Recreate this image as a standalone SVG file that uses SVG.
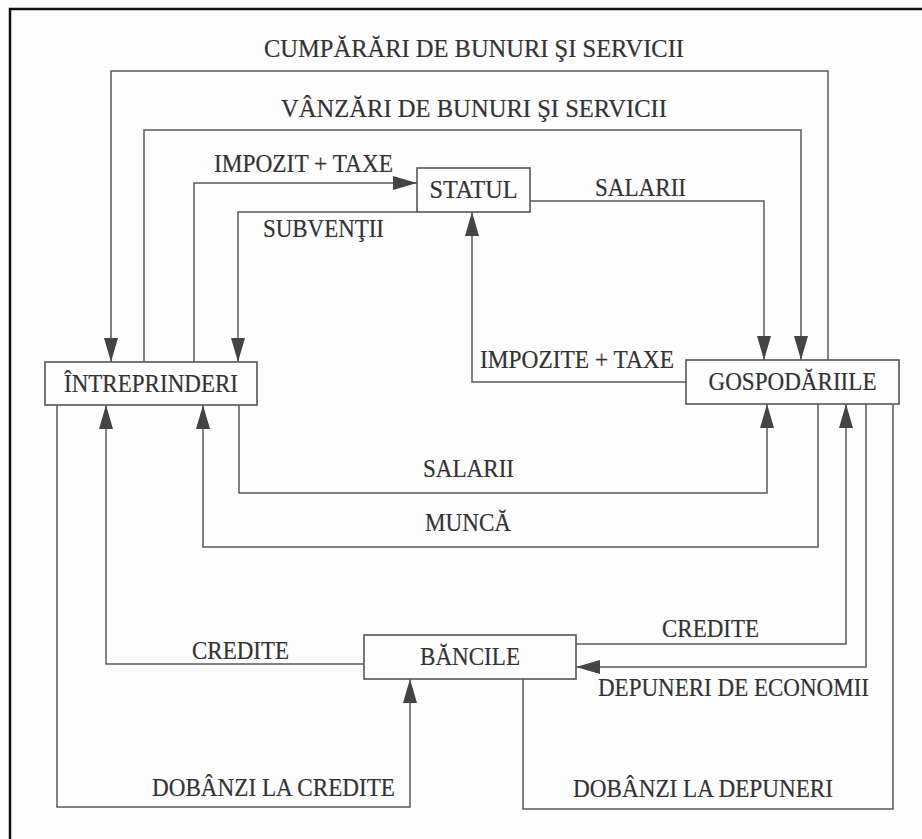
<svg xmlns="http://www.w3.org/2000/svg" width="922" height="839" viewBox="0 0 922 839">
  <style>
    .frame { fill: none; stroke: #111; stroke-width: 2.5; }
    .box { fill: #fdfdfe; stroke: #555; stroke-width: 1.6; }
    .flow { fill: none; stroke: #5a5a5a; stroke-width: 1.5; }
    .arrow { marker-end: url(#head); }
    text { font-family: "Liberation Serif", "Times New Roman", serif; font-size: 25px; fill: #333; stroke: #333; stroke-width: 0.2; }
    .big { font-size: 25.5px; }
    .mid { text-anchor: middle; }
  </style>
  <defs>
    <marker id="head" markerUnits="userSpaceOnUse" markerWidth="24" markerHeight="14" refX="24" refY="7" orient="auto">
      <path d="M0,0 L24,7 L0,14 Z" fill="#444"/>
    </marker>
  </defs>

  <!-- page -->
  <rect x="0" y="0" width="922" height="839" fill="#fdfdfe"/>
  <path class="frame" d="M10,839 V9 H922"/>

  <!-- connectors -->
  <g id="connectors">
    <!-- purchases: households to firms -->
    <path class="flow arrow" d="M828,360 V71 H111 V362"/>
    <text class="big mid" x="474" y="57" textLength="420" lengthAdjust="spacingAndGlyphs">CUMPĂRĂRI DE BUNURI ŞI SERVICII</text>
    <!-- sales: firms to households -->
    <path class="flow arrow" d="M144,362 V130 H801 V360"/>
    <text class="big mid" x="474" y="117" textLength="386" lengthAdjust="spacingAndGlyphs">VÂNZĂRI DE BUNURI ŞI SERVICII</text>
    <!-- firm taxes to the state -->
    <path class="flow arrow" d="M194,362 V183 H417"/>
    <text x="214" y="172" textLength="179" lengthAdjust="spacingAndGlyphs">IMPOZIT + TAXE</text>
    <!-- state wages to households -->
    <path class="flow arrow" d="M530,201 H764 V360"/>
    <text x="595" y="196" textLength="91" lengthAdjust="spacingAndGlyphs">SALARII</text>
    <!-- subsidies to firms -->
    <path class="flow arrow" d="M417,212 H238 V362"/>
    <text x="263" y="237" textLength="121" lengthAdjust="spacingAndGlyphs">SUBVENŢII</text>
    <!-- household taxes to the state -->
    <path class="flow arrow" d="M686,382 H472 V212"/>
    <text x="480" y="368" textLength="194" lengthAdjust="spacingAndGlyphs">IMPOZITE + TAXE</text>
    <!-- firm wages to households -->
    <path class="flow arrow" d="M239,405 V493 H767 V404"/>
    <text x="423" y="477" textLength="91" lengthAdjust="spacingAndGlyphs">SALARII</text>
    <!-- labour to firms -->
    <path class="flow arrow" d="M818,404 V547 H203 V405"/>
    <text x="425" y="531" textLength="86" lengthAdjust="spacingAndGlyphs">MUNCĂ</text>
    <!-- bank credit to firms -->
    <path class="flow arrow" d="M364,664 H106 V405"/>
    <text x="192" y="659" textLength="97" lengthAdjust="spacingAndGlyphs">CREDITE</text>
    <!-- interest on credit to banks -->
    <path class="flow arrow" d="M57,405 V807 H410 V679"/>
    <text x="152" y="796" textLength="243" lengthAdjust="spacingAndGlyphs">DOBÂNZI LA CREDITE</text>
    <!-- bank credit to households -->
    <path class="flow arrow" d="M576,644 H846 V404"/>
    <text x="662" y="637" textLength="97" lengthAdjust="spacingAndGlyphs">CREDITE</text>
    <!-- savings deposits to banks -->
    <path class="flow arrow" d="M866,404 V667 H576"/>
    <text x="598" y="696" textLength="271" lengthAdjust="spacingAndGlyphs">DEPUNERI DE ECONOMII</text>
    <!-- interest on deposits to households -->
    <path class="flow" d="M523,679 V809 H893 V404"/>
    <text x="573" y="797" textLength="260" lengthAdjust="spacingAndGlyphs">DOBÂNZI LA DEPUNERI</text>
  </g>

  <!-- nodes -->
  <g id="statul">
    <rect class="box" x="417" y="168" width="113" height="44"/>
    <text class="mid" x="473.5" y="198" textLength="88" lengthAdjust="spacingAndGlyphs">STATUL</text>
  </g>
  <g id="intreprinderi">
    <rect class="box" x="45" y="362" width="212" height="43"/>
    <text class="mid" x="151" y="392" textLength="174" lengthAdjust="spacingAndGlyphs">ÎNTREPRINDERI</text>
  </g>
  <g id="gospodariile">
    <rect class="box" x="686" y="360" width="213" height="44"/>
    <text class="mid" x="792.5" y="390" textLength="168" lengthAdjust="spacingAndGlyphs">GOSPODĂRIILE</text>
  </g>
  <g id="bancile">
    <rect class="box" x="364" y="635" width="212" height="44"/>
    <text class="mid" x="470" y="665" textLength="100" lengthAdjust="spacingAndGlyphs">BĂNCILE</text>
  </g>
</svg>
